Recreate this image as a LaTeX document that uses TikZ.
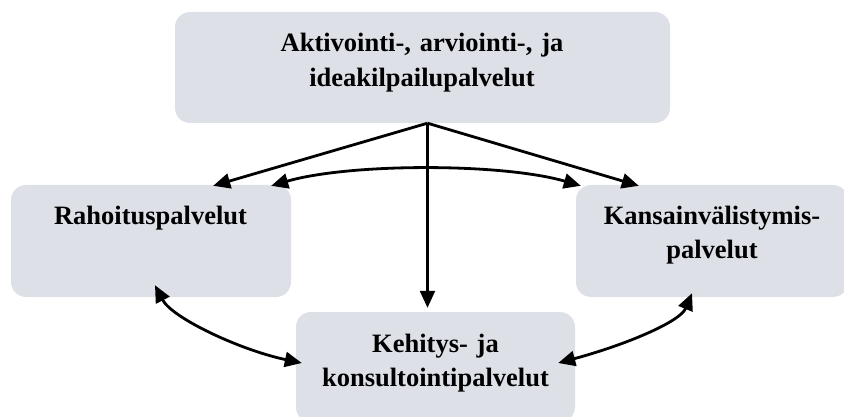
\documentclass[tikz,border=0pt]{standalone}
\usepackage{fontspec}
\setmainfont{Liberation Serif}
\usetikzlibrary{arrows.meta,calc}
\definecolor{boxfill}{RGB}{221,224,231}
\begin{document}
\begin{tikzpicture}[x=1pt,y=-1pt,
  box/.style={draw=none,fill=boxfill,rounded corners=15pt,inner sep=0pt},
  lbl/.style={font=\fontsize{26.5}{34.5}\selectfont\bfseries,align=center,inner sep=0pt,anchor=base},
  conn/.style={line width=2.8pt,-{Triangle[length=17pt,width=15pt]}},
  twoway/.style={line width=2.8pt,{Triangle[length=17pt,width=15pt]}-{Triangle[length=17pt,width=15pt]}}]
\useasboundingbox (0,0) rectangle (844,417);
% boxes
\node[box,minimum width=495pt,minimum height=111pt] (top) at (422.5,67.5) {};
\node[box,minimum width=280pt,minimum height=112pt] (left) at (151,241) {};
\node[box,minimum width=272pt,minimum height=112pt] (right) at (712,241) {};
\node[box,minimum width=279pt,minimum height=110pt] (bottom) at (435.5,367) {};
% labels
\node[lbl,text width=330pt] (ttop) at (422,52) {Aktivointi-, arviointi-, ja\\ideakilpailupalvelut};
\node[lbl,text width=260pt] (tleft) at (150.5,225) {Rahoituspalvelut};
\node[lbl,text width=260pt] (tright) at (712,224) {Kansainvälistymis-\\palvelut};
\node[lbl,text width=260pt] (tbottom) at (435.5,352) {Kehitys- ja\\konsultointipalvelut};
% connectors from the top box
\draw[conn] ([xshift=5pt]top.south) -- ([xshift=-78pt,yshift=-1pt]left.north east);
\draw[conn] ([xshift=5pt]top.south) -- ([xshift=63pt,yshift=-1pt]right.north west);
\draw[conn,line width=2.3pt] ([xshift=5pt]top.south) -- ([xshift=-8pt,yshift=4pt]bottom.north);
% two-way links
\draw[twoway] ([xshift=-20pt,yshift=-1pt]left.north east)
  .. controls (350,163) and (502,163) .. ([xshift=5pt,yshift=-1pt]right.north west);
\draw[twoway] ([xshift=4pt,yshift=12pt]left.south)
  .. controls (172,318) and (240,350) .. ([xshift=6pt,yshift=4pt]bottom.west);
\draw[twoway] ([xshift=-20pt,yshift=4pt]right.south)
  .. controls (680,322) and (625,345) .. ([xshift=-17pt,yshift=4pt]bottom.east);
\end{tikzpicture}
\end{document}
